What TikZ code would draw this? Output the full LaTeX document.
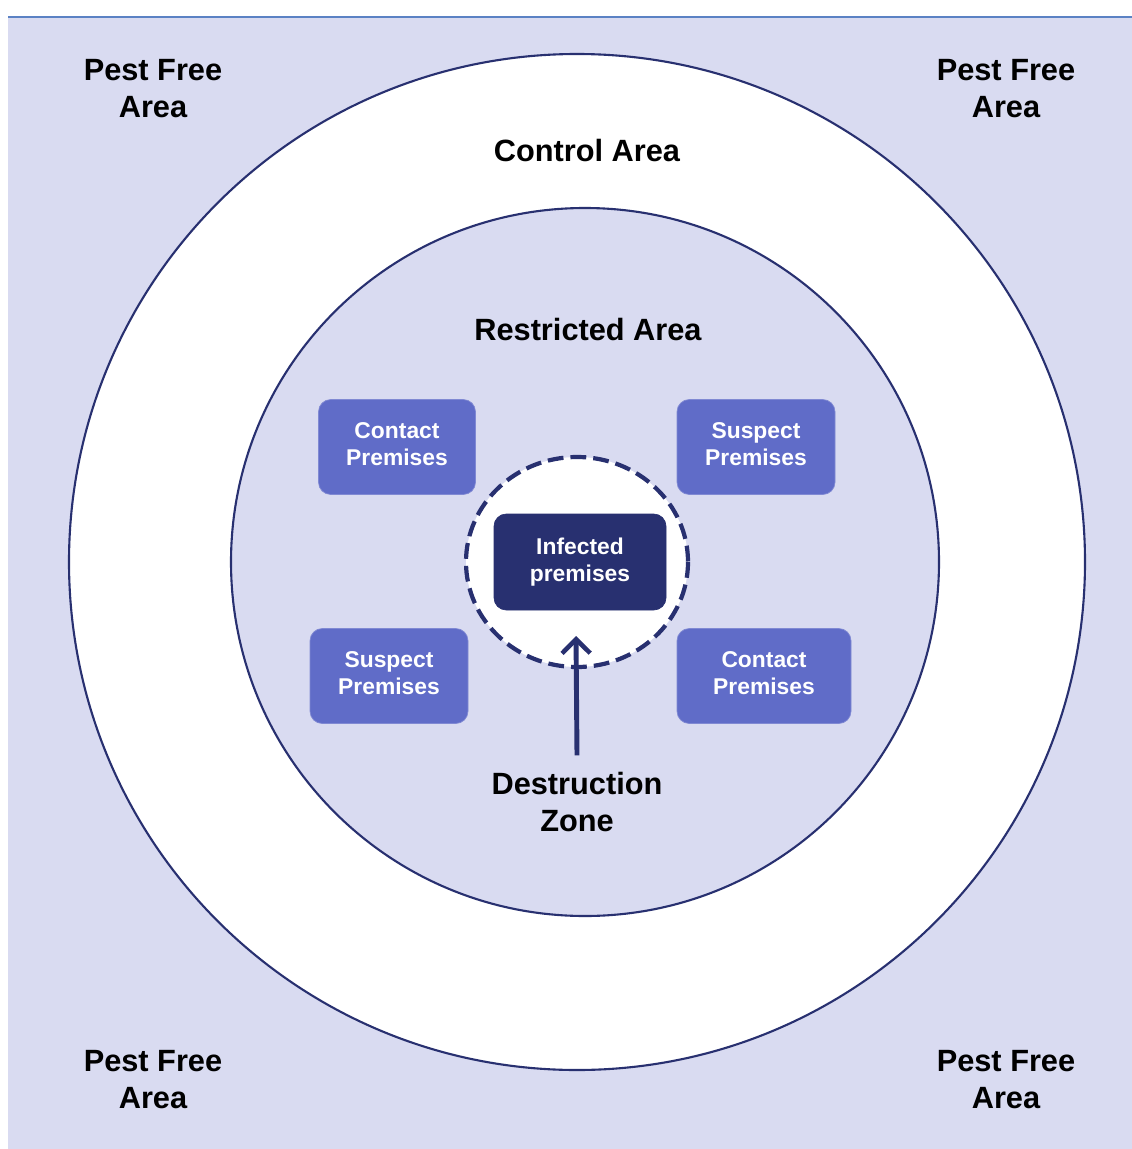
\documentclass[tikz,border=0pt]{standalone}
\usepackage{fontspec}
\setmainfont{Liberation Sans}
\usetikzlibrary{arrows.meta}
\definecolor{bgl}{HTML}{D9DBF1}
\definecolor{navy}{HTML}{283070}
\definecolor{boxc}{HTML}{606CC8}
\definecolor{topline}{HTML}{5B82C4}
\begin{document}
\begin{tikzpicture}[x=0.02cm,y=-0.02cm,
  lbl/.style={font=\fontsize{17.5}{21}\selectfont\bfseries, align=center, text=black},
  prem/.style={rounded corners=7pt, fill=boxc, draw=boxc!80!white, line width=0.4pt, text=white,
     font=\fontsize{13}{15.3}\selectfont\bfseries, align=center, minimum height=95*0.02cm, inner sep=0pt},
  ring/.style={circle, draw=navy, line width=1.2pt, inner sep=0pt}]
\useasboundingbox (0,0) rectangle (1132,1149);
\fill[bgl] (8,17) rectangle (1132,1149);
\draw[topline, line width=1.2pt] (8,17) -- (1132,17);
\node[ring, fill=white, minimum size=1016*0.02cm] (control) at (577,562) {};
\node[ring, fill=bgl, minimum size=708*0.02cm] (restricted) at (585,562) {};
\draw[navy, fill=white, line width=2.4pt, dash pattern=on 9pt off 4pt] (577,562) ellipse [x radius=111, y radius=105];
\node[prem, minimum width=157*0.02cm] (cp1) at (397,447) {Contact\\Premises\\[-12pt]};
\node[prem, minimum width=158*0.02cm] (sp1) at (756,447) {Suspect\\Premises\\[-12pt]};
\node[prem, minimum width=158*0.02cm] (sp2) at (389,676) {Suspect\\Premises\\[-12pt]};
\node[prem, minimum width=174*0.02cm] (cp2) at (764,676) {Contact\\Premises\\[-12pt]};
\node[prem, fill=navy, draw=navy, minimum width=172*0.02cm, minimum height=96*0.02cm] (inf) at (580,562) {Infected\\premises};
\node[lbl] (pf1) at (153,89) {Pest Free\\Area};
\node[lbl] (pf2) at (1006,89) {Pest Free\\Area};
\node[lbl] (pf3) at (153,1080) {Pest Free\\Area};
\node[lbl] (pf4) at (1006,1080) {Pest Free\\Area};
\node[lbl] (ca) at (587,151) {Control Area};
\node[lbl] (ra) at (588,330) {Restricted Area};
\node[lbl, anchor=north] (dz) at (577,766) {Destruction\\Zone};
\coordinate (tip) at (576,636);
\draw[navy, line width=2.8pt, -{Straight Barb[length=8pt, width=16pt, line width=2.6pt]}] ([yshift=6pt]dz.north) -- (tip);
\end{tikzpicture}
\end{document}
